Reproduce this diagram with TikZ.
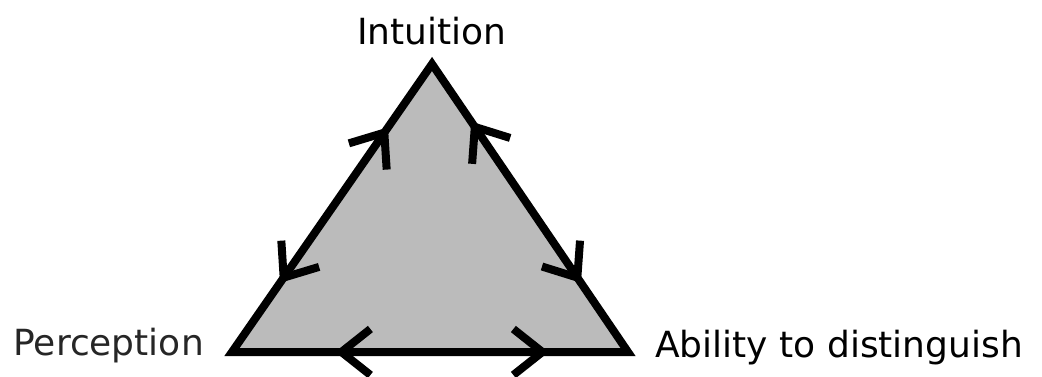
\documentclass[tikz,border=0pt]{standalone}
\usepackage{fontspec}
\setmainfont{DejaVu Sans}
\usetikzlibrary{arrows.meta,decorations.markings}
\definecolor{trifill}{HTML}{BBBBBB}
\begin{document}
\begin{tikzpicture}[x=1pt,y=-1pt,
  border/.style={line width=8pt, line join=miter, draw=black, fill=trifill},
  barbtip/.tip={Straight Barb[length=29pt,width=46pt,sharp,line width=8pt]},
  twotips/.style 2 args={line width=8pt, line cap=butt, decoration={markings,
      mark=at position #1 with {\arrowreversed{barbtip}},
      mark=at position #2 with {\arrow{barbtip}}},
      postaction=decorate},
  lbl/.style={inner sep=0pt, font=\fontsize{36}{40}\selectfont}]
\useasboundingbox (0,0) rectangle (1042,377);
\coordinate (T) at (432,64);
\coordinate (BL) at (232,352);
\coordinate (BR) at (628,352);
\draw[border] (T) -- (BR) -- (BL) -- cycle;
\path[twotips={0.24}{0.78}] (BL) -- (T);
\path[twotips={0.20}{0.76}] (T) -- (BR);
\path[twotips={0.26}{0.80}] (BL) -- (BR);
\node[lbl, anchor=base] (int) at (432,45) {Intuition};
\node[lbl, anchor=base east, text=black!85] (per) at (204,355) {Perception};
\node[lbl, anchor=base west] (abi) at (655,357) {Ability to distinguish};
\end{tikzpicture}
\end{document}
